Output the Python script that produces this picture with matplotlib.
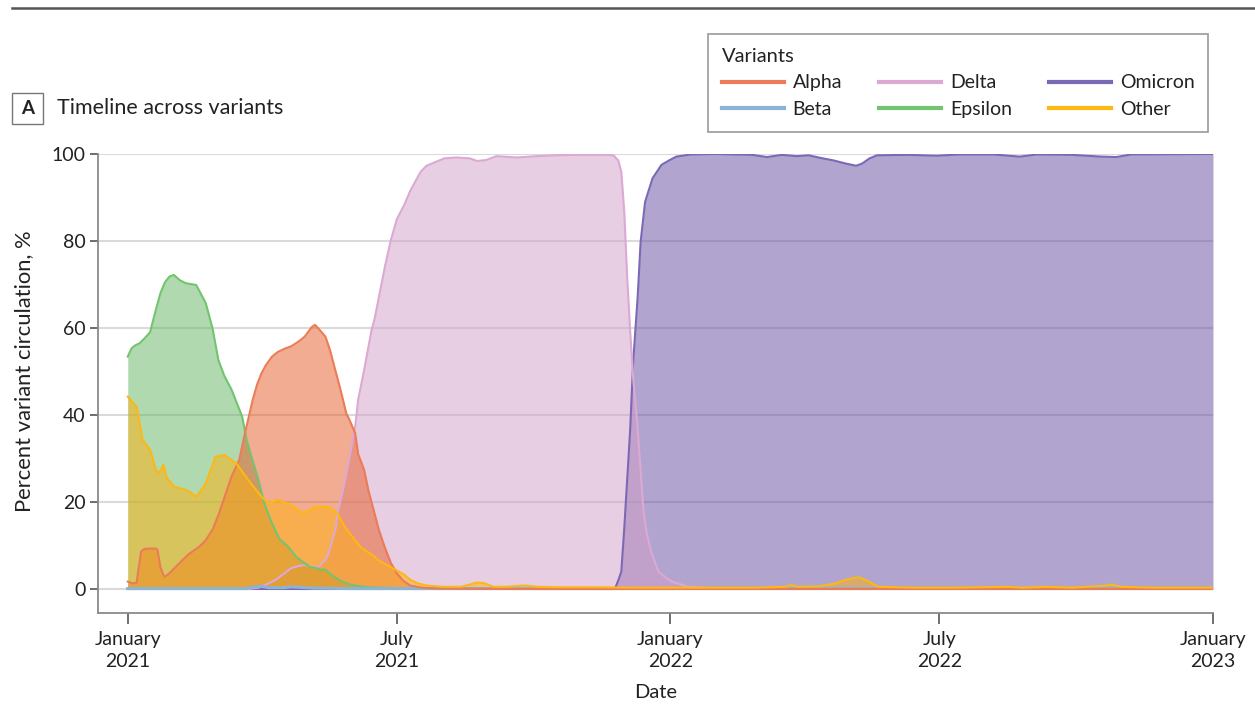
import matplotlib
matplotlib.use("Agg")
import matplotlib.pyplot as plt
from matplotlib.lines import Line2D
from matplotlib.patches import Rectangle
import pandas as pd

plt.rcParams['font.family'] = ['Lato', 'DejaVu Sans']

START = pd.Timestamp("2021-01-01")

# ---- data: days since 2021-01-01 and percent of circulating variants ----
alpha_day = [0, 3, 6, 7, 9, 11, 15, 19, 20, 22, 24, 25, 28, 32, 37, 41, 48, 52, 57, 61, 66, 70,
             75, 79, 84, 87, 90, 93, 97, 101, 106, 110, 115, 119, 124, 126, 128, 133, 136, 139,
             143, 147, 149, 153, 155, 159, 162, 166, 169, 173, 177, 181, 185, 190, 198, 208, 260, 730]
alpha_val = [1.7, 1.3, 1.4, 4.0, 8.6, 9.2, 9.3, 9.3, 9.0, 5.0, 3.2, 2.8, 3.6, 5.0, 6.7, 8.0, 9.7,
             11.0, 13.6, 17.0, 22.0, 26.0, 29.7, 36.0, 43.4, 47.0, 49.6, 51.5, 53.4, 54.5, 55.3,
             55.8, 56.9, 58.0, 60.3, 60.7, 60.0, 58.0, 55.0, 51.1, 46.0, 40.4, 39.0, 35.8, 31.0,
             27.4, 22.5, 17.4, 13.5, 9.5, 6.0, 3.6, 2.0, 0.8, 0.3, 0.1, 0.0, 0.0]

beta_day = [0, 40, 80, 85, 90, 95, 105, 110, 115, 125, 150, 300, 500, 730]
beta_val = [0.1, 0.1, 0.1, 0.5, 0.6, 0.3, 0.3, 0.5, 0.4, 0.2, 0.1, 0.1, 0.1, 0.1]

delta_day = [0, 81, 88, 93, 99, 105, 110, 115, 119, 123, 126, 129, 133, 135, 137, 140, 141, 145,
             148, 153, 155, 159, 164, 166, 173, 177, 181, 186, 190, 197, 201, 208, 213, 221, 230,
             235, 241, 248, 262, 275, 288, 302, 315, 324, 327, 330, 332, 334, 336, 338, 340, 343,
             345, 347, 349, 352, 357, 362, 366, 377, 395, 730]
delta_val = [0.0, 0.0, 0.3, 1.0, 2.0, 3.5, 4.8, 5.3, 5.5, 5.2, 4.8, 5.3, 6.7, 8.0, 10.5, 14.0,
             17.4, 23.0, 28.1, 37.3, 43.5, 50.3, 59.5, 62.0, 74.1, 80.2, 85.0, 88.3, 91.5, 95.9,
             97.3, 98.3, 99.0, 99.2, 99.0, 98.4, 98.6, 99.5, 99.2, 99.5, 99.7, 99.8, 99.8, 99.8,
             99.6, 98.5, 95.9, 86.7, 71.4, 59.1, 48.4, 36.9, 27.0, 17.8, 13.0, 8.6, 4.0, 2.6,
             1.7, 0.5, 0.2, 0.1]

epsilon_day = [0, 2.5, 5, 8, 11, 15, 18, 22, 25, 28, 31, 35, 39, 46, 49, 52.5, 57, 61, 65, 70, 77,
               80, 84, 88, 92, 97, 102, 108, 113, 119, 123, 127, 129, 133, 138, 144, 151, 159,
               168, 181, 730]
epsilon_val = [53.4, 55.3, 56.0, 56.5, 57.5, 59.0, 63.0, 68.0, 70.5, 71.8, 72.2, 71.0, 70.3, 69.9,
               68.0, 65.7, 60.0, 52.6, 49.0, 45.7, 39.6, 34.3, 29.5, 25.0, 19.5, 15.1, 11.5, 9.7,
               7.5, 5.9, 5.0, 4.8, 4.5, 4.4, 3.0, 1.7, 0.9, 0.5, 0.3, 0.2, 0.1]

omicron_day = [0, 327, 328, 330, 332, 334, 336, 338, 340, 343, 345, 348, 353, 359, 364, 369, 379,
               395, 420, 430, 440, 450, 458, 466, 475, 483, 490, 494, 499, 504, 525, 544, 560,
               582, 600, 612, 635, 655, 665, 675, 730]
omicron_val = [0.0, 0.0, 0.3, 2.0, 4.0, 14.0, 25.4, 36.9, 52.3, 67.1, 79.8, 89.0, 94.4, 97.5, 98.5,
               99.4, 99.9, 100.0, 99.8, 99.3, 99.8, 99.5, 99.7, 99.1, 98.5, 97.8, 97.3, 97.8, 99.0,
               99.7, 99.8, 99.6, 99.9, 99.9, 99.4, 99.9, 99.8, 99.4, 99.3, 99.9, 100.0]

other_day = [0, 3, 6, 8, 10, 15, 19, 21, 24, 26, 31, 39, 43, 46, 49, 52.5, 56, 59, 65, 73, 81, 90,
             95, 101, 110, 118, 126, 135, 139, 141, 146, 150, 157, 166, 168, 177, 186, 190, 195,
             201, 212, 224, 230, 235, 240, 246, 255, 262, 268, 275, 288, 315, 342, 382, 422, 442,
             446, 451, 465, 475, 485, 492, 498, 505, 528, 555, 592, 602, 618, 635, 655, 662, 668,
             689, 730]
other_val = [44.2, 43.0, 41.9, 38.0, 34.3, 32.0, 27.4, 26.6, 28.5, 25.8, 23.5, 22.8, 22.0, 21.2,
             22.5, 24.3, 27.5, 30.4, 30.8, 28.9, 25.1, 21.2, 19.7, 20.5, 19.3, 17.4, 18.9, 18.9,
             18.0, 17.4, 14.3, 12.5, 9.5, 7.5, 6.7, 5.0, 3.3, 2.1, 1.3, 0.8, 0.5, 0.5, 1.0, 1.5,
             1.3, 0.5, 0.5, 0.7, 0.8, 0.5, 0.4, 0.4, 0.3, 0.3, 0.3, 0.5, 0.9, 0.5, 0.6, 1.2, 2.3,
             2.7, 1.8, 0.5, 0.3, 0.3, 0.5, 0.3, 0.5, 0.3, 0.7, 1.0, 0.5, 0.3, 0.3]

variant_names = ["Alpha", "Beta", "Delta", "Epsilon", "Omicron", "Other"]
series = {
    "Alpha": (alpha_day, alpha_val),
    "Beta": (beta_day, beta_val),
    "Delta": (delta_day, delta_val),
    "Epsilon": (epsilon_day, epsilon_val),
    "Omicron": (omicron_day, omicron_val),
    "Other": (other_day, other_val),
}
fill_colors = {"Alpha": "#E75B25", "Beta": "#8AB4D4", "Delta": "#D19FC7",
               "Epsilon": "#63B561", "Omicron": "#654DA1", "Other": "#FFB00C"}
line_colors = {"Alpha": "#EC7B57", "Beta": "#8AB4D4", "Delta": "#DCA8D4",
               "Epsilon": "#72C46F", "Omicron": "#7B68B6", "Other": "#FDB813"}
draw_order = ["Omicron", "Delta", "Epsilon", "Beta", "Alpha", "Other"]

y_ticks = [0, 20, 40, 60, 80, 100]
x_tick_dates = ["2021-01-01", "2021-07-01", "2022-01-01", "2022-07-01", "2023-01-01"]
x_tick_labels = ["January\n2021", "July\n2021", "January\n2022", "July\n2022", "January\n2023"]

# ---- figure ----
W, H = 1255, 713
fig = plt.figure(figsize=(W / 100, H / 100), dpi=100)
ax = fig.add_axes([98 / W, 1 - 613 / H, (1213 - 98) / W, (613 - 154) / H])

text_col = "#222222"
for name in draw_order:
    d, v = series[name]
    dates = START + pd.to_timedelta(d, unit="D")
    if name != "Beta":
        ax.fill_between(dates, 0, v, color=fill_colors[name], alpha=0.5, linewidth=0, zorder=2)
for name in draw_order:
    d, v = series[name]
    dates = START + pd.to_timedelta(d, unit="D")
    lw = 2.2 if name == "Beta" else 1.5
    ax.plot(dates, v, color=line_colors[name], linewidth=lw, zorder=3, solid_joinstyle="round")

YMIN, YMAX = -5.52, 100
ax.set_ylim(YMIN, YMAX)
ax.set_xlim(pd.Timestamp("2020-12-12"), pd.Timestamp("2023-01-01"))
ax.set_yticks(y_ticks)
ax.set_yticklabels([str(t) for t in y_ticks])
ax.set_xticks(pd.to_datetime(x_tick_dates))
ax.set_xticklabels(x_tick_labels, linespacing=1.35)
ax.grid(axis="y", color="#DADADA", linewidth=1.5, zorder=1)
ax.set_axisbelow(True)
for s in ["top", "right"]:
    ax.spines[s].set_visible(False)
for s in ["left", "bottom"]:
    ax.spines[s].set_color("#8A8A8A")
    ax.spines[s].set_linewidth(1.3)
ax.tick_params(axis="y", length=6, width=1.2, color="#555555", labelsize=14, labelcolor=text_col, pad=3)
ax.tick_params(axis="x", length=8, width=1.2, color="#555555", labelsize=14, labelcolor=text_col, pad=5)
ax.set_ylabel("Percent variant circulation, %", fontsize=15.8, color=text_col)
ax.yaxis.set_label_coords(-(98 - 34) / (1213 - 98), (50 - YMIN) / (YMAX - YMIN))
ax.set_xlabel("Date", fontsize=14.5, color=text_col, labelpad=10)

# top rule
fig.add_artist(Line2D([12 / W, 1.0], [1 - 8 / H, 1 - 8 / H], color="#555555", linewidth=1.8))

# panel label
fig.add_artist(Rectangle((12 / W, 1 - 124 / H), 31 / W, 31 / H, fill=False,
                         edgecolor="#777777", linewidth=1.0))
fig.text(27.5 / W, 1 - 108.5 / H, "A", fontsize=13.5, fontweight="bold", color=text_col,
         ha="center", va="center")
fig.text(57 / W, 1 - 108 / H, "Timeline across variants", fontsize=15.5, color=text_col,
         ha="left", va="center")

# legend
handles = [Line2D([], [], color=line_colors[n], linewidth=3) for n in variant_names]
leg = fig.legend(handles, variant_names, ncol=3, loc="upper left",
                 bbox_to_anchor=(708 / W, 1 - 34 / H), frameon=True, fancybox=False,
                 edgecolor="#8A8A8A", fontsize=14, title="Variants", title_fontsize=14.5,
                 alignment="left", handlelength=3.2, handletextpad=0.45, columnspacing=1.9,
                 labelspacing=0.5, borderpad=0.7, borderaxespad=0)
leg.get_frame().set_linewidth(1.3)
for t in leg.get_texts():
    t.set_color(text_col)
leg.get_title().set_color(text_col)

fig.savefig("out.png", dpi=100)
